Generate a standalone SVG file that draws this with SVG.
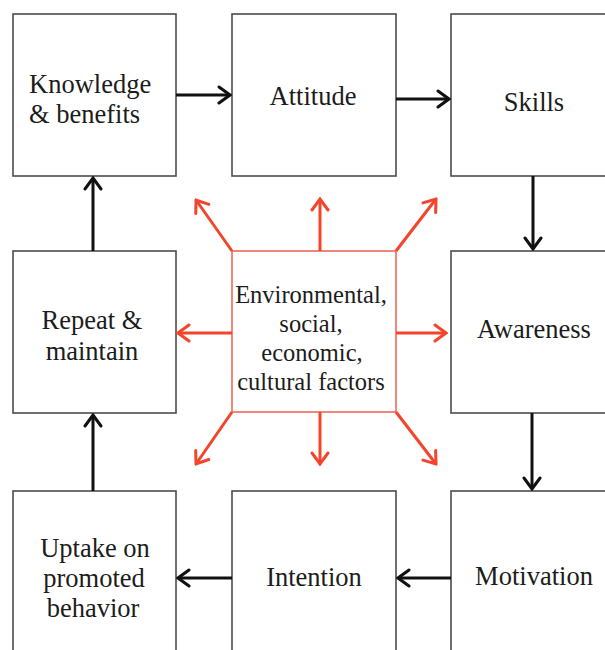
<svg xmlns="http://www.w3.org/2000/svg" width="605" height="650" viewBox="0 0 605 650">
  <defs>
    <style>
      .box { fill: #ffffff; stroke: #4d4d4d; stroke-width: 1.6; }
      .hub { fill: #ffffff; stroke: #ee6a58; stroke-width: 1.6; }
      .lbl { font-family: "Liberation Serif", "Times New Roman", serif; font-size: 26.5px; fill: #1c1c1c; text-anchor: middle; }
      .hubl { font-size: 24.5px; }
      .flow { stroke: #111111; stroke-width: 3; fill: none; marker-end: url(#headBlack); }
      .spread { stroke: #f2452b; stroke-width: 3; fill: none; marker-end: url(#headRed); }
    </style>
    <marker id="headBlack" viewBox="-14 -10 16 20" refX="0" refY="0" markerWidth="16" markerHeight="20" markerUnits="userSpaceOnUse" orient="auto">
      <path d="M-11,-8 L0,0 L-11,8" fill="none" stroke="#111111" stroke-width="3" stroke-linecap="round"/>
    </marker>
    <marker id="headRed" viewBox="-14 -10 16 20" refX="0" refY="0" markerWidth="16" markerHeight="20" markerUnits="userSpaceOnUse" orient="auto">
      <path d="M-11,-8 L0,0 L-11,8" fill="none" stroke="#f2452b" stroke-width="3" stroke-linecap="round"/>
    </marker>
  </defs>

  <rect width="605" height="650" fill="#ffffff"/>

  <!-- process steps -->
  <g id="knowledge">
    <rect class="box" x="13" y="14" width="163" height="162"/>
    <text class="lbl" x="29" y="93" style="text-anchor:start">Knowledge</text>
    <text class="lbl" x="29" y="123" style="text-anchor:start">&amp; benefits</text>
  </g>
  <g id="attitude">
    <rect class="box" x="232" y="14" width="164" height="162"/>
    <text class="lbl" x="313" y="105">Attitude</text>
  </g>
  <g id="skills">
    <rect class="box" x="451" y="14" width="163" height="162"/>
    <text class="lbl" x="534" y="111">Skills</text>
  </g>
  <g id="repeat">
    <rect class="box" x="13" y="251" width="163" height="162"/>
    <text class="lbl" x="92" y="329">Repeat &amp;</text>
    <text class="lbl" x="92" y="360">maintain</text>
  </g>
  <g id="factors">
    <rect class="hub" x="232" y="251" width="164" height="161"/>
    <text class="lbl hubl" x="311" y="303">Environmental,</text>
    <text class="lbl hubl" x="311" y="332">social,</text>
    <text class="lbl hubl" x="312" y="361">economic,</text>
    <text class="lbl hubl" x="311" y="390">cultural factors</text>
  </g>
  <g id="awareness">
    <rect class="box" x="451" y="251" width="163" height="162"/>
    <text class="lbl" x="534" y="338">Awareness</text>
  </g>
  <g id="uptake">
    <rect class="box" x="13" y="491" width="163" height="170"/>
    <text class="lbl" x="95" y="557">Uptake on</text>
    <text class="lbl" x="94" y="587">promoted</text>
    <text class="lbl" x="93" y="617">behavior</text>
  </g>
  <g id="intention">
    <rect class="box" x="232" y="491" width="164" height="170"/>
    <text class="lbl" x="314" y="586">Intention</text>
  </g>
  <g id="motivation">
    <rect class="box" x="451" y="491" width="163" height="170"/>
    <text class="lbl" x="534" y="585">Motivation</text>
  </g>

  <!-- connectors -->
  <g id="connectors">
    <line class="flow" x1="176" y1="95" x2="230" y2="95"/>
    <line class="flow" x1="396" y1="99" x2="449" y2="99"/>
    <line class="flow" x1="533" y1="176" x2="533" y2="249"/>
    <line class="flow" x1="532" y1="413" x2="532" y2="489"/>
    <line class="flow" x1="451" y1="578" x2="398" y2="578"/>
    <line class="flow" x1="232" y1="578" x2="178" y2="578"/>
    <line class="flow" x1="93" y1="491" x2="93" y2="415"/>
    <line class="flow" x1="93" y1="251" x2="93" y2="178"/>

    <line class="spread" x1="320" y1="251" x2="320" y2="199"/>
    <line class="spread" x1="320" y1="412" x2="320" y2="464"/>
    <line class="spread" x1="232" y1="333" x2="178" y2="333"/>
    <line class="spread" x1="396" y1="333" x2="446" y2="333"/>
    <line class="spread" x1="232" y1="251" x2="196" y2="200"/>
    <line class="spread" x1="396" y1="251" x2="436" y2="199"/>
    <line class="spread" x1="232" y1="412" x2="196" y2="464"/>
    <line class="spread" x1="396" y1="412" x2="436" y2="464"/>
  </g>
</svg>
